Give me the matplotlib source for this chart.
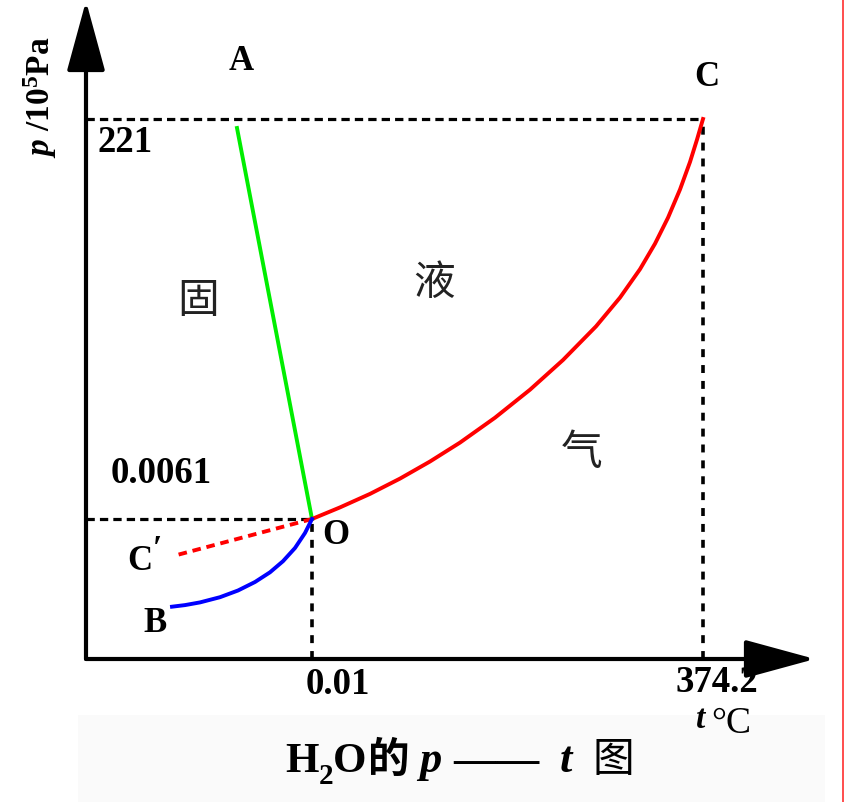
import matplotlib
matplotlib.use("Agg")
import matplotlib.pyplot as plt
from matplotlib.patches import Rectangle

plt.rcParams["font.family"] = ["Liberation Serif", "Noto Sans CJK SC"]
plt.rcParams["mathtext.fontset"] = "custom"
plt.rcParams["mathtext.rm"] = "Liberation Serif:bold"
plt.rcParams["mathtext.it"] = "Liberation Serif:bold:italic"

# schematic coordinates, origin at the axis corner
triple = (226, 140)          # O
critical = (617, 540)        # C
t_ticks = [226, 617]
t_labels = ["0.01", "374.2"]
p_ticks = [140, 540]
p_labels = ["0.0061", "221"]

# O -> A (melting line)
melt_t = [226, 151]
melt_p = [140, 531]
# O -> C (vaporisation curve)
vap_t = [226, 254, 284, 314, 344, 374, 409, 444, 477, 510, 534, 554, 569, 582,
         594, 604, 611, 617]
vap_p = [140, 151.6, 165.1, 180.4, 197.5, 216.4, 241.3, 269.3, 299, 332.6, 361.4,
         389.8, 415.3, 441.3, 469.5, 497, 519.4, 540]
# O -> B (sublimation curve)
sub_t = [226, 219, 209, 197, 184, 169, 152, 134, 114, 99, 86]
sub_p = [140, 126, 111, 97.8, 86.7, 77, 68.5, 61.8, 56.6, 53.9, 52.3]
# O -> C' (supercooled liquid)
sc_t = [226, 91]
sc_p = [140, 104]

fig = plt.figure(figsize=(8.45, 8.03), dpi=100)
ax = fig.add_axes([0, 0, 1, 1])
ax.set_xlim(-86, 759)
ax.set_ylim(-143, 660)
ax.axis("off")

ax.add_patch(Rectangle((-8, -143), 747, 87, color="#fafafa", lw=0, zorder=0))
ax.axvline(757, color="#ff4d4d", lw=1.4)

# axes with arrows
arrow = dict(arrowstyle="-|>,head_length=2.2,head_width=0.6", mutation_scale=20,
             lw=3, color="black", shrinkA=0, shrinkB=0)
ax.annotate("", xy=(0, 658), xytext=(0, 0), arrowprops=arrow)
ax.annotate("", xy=(729, 0), xytext=(0, 0), arrowprops=arrow)

# guide lines
dash = (0, (2.6, 1.6))
dot = (0, (2.2, 2.2))
ax.plot([0, triple[0]], [triple[1], triple[1]], color="black", lw=2.3, ls=dash)
ax.plot([0, critical[0]], [critical[1], critical[1]], color="black", lw=2.3, ls=dash)
ax.plot([triple[0], triple[0]], [0, triple[1]], color="black", lw=2.6, ls=dot)
ax.plot([critical[0], critical[0]], [0, critical[1]], color="black", lw=2.6, ls=dot)

# phase boundaries
ax.plot(sc_t, sc_p, color="#ff0000", lw=2.8, ls=(0, (2.2, 1.5)))
ax.plot(melt_t, melt_p, color="#00ee00", lw=2.8)
ax.plot(vap_t, vap_p, color="#ff0000", lw=2.8, solid_joinstyle="round")
ax.plot(sub_t, sub_p, color="#0000ff", lw=2.8, solid_joinstyle="round")

lab = dict(fontsize=26.5, fontweight="bold", ha="center", va="center")
ax.text(t_ticks[0] + 26, -25, t_labels[0], **lab)
ax.text(t_ticks[1] + 14, -23, t_labels[1], **lab)
ax.text(75, p_ticks[0] + 46, p_labels[0], **lab)
ax.text(39, p_ticks[1] - 22, p_labels[1], **lab)

pt = dict(fontsize=25, fontweight="bold", ha="center", va="center")
ax.text(155, 599, "A", **pt)
ax.text(621, 582, "C", **pt)
ax.text(250, 125, "O", **pt)
ax.text(69, 36, "B", **pt)
ax.text(54, 98, "C", **pt)
ax.text(71, 111, "′", fontsize=24, fontweight="bold", ha="center", va="center")

cjk = dict(fontsize=30, family="Noto Sans CJK SC", color="#222222", ha="center", va="center")
ax.text(112, 359, "固", **cjk)
ax.text(348, 377, "液", **cjk)
ax.text(496, 206, "气", **cjk)

ax.text(-46, 563, r"$p$ /10$^{5}$Pa", fontsize=24, fontweight="bold",
        rotation=90, ha="center", va="center")
ax.text(615, -60, "t", fontsize=24, fontweight="bold", style="italic", ha="center", va="center")
ax.text(645, -64, "°C", fontsize=27, ha="center", va="center")

# caption, laid out piece by piece (1 data unit = 1 pixel)
renderer = fig.canvas.get_renderer()
pieces = [
    ("H", dict(fontsize=31, fontweight="bold"), 0, 0),
    ("2", dict(fontsize=21, fontweight="bold"), -12, 0),
    ("O", dict(fontsize=31, fontweight="bold"), 0, 1),
    ("的", dict(fontsize=30, fontweight="bold", family="Noto Sans CJK SC"), 0, 10),
    ("p", dict(fontsize=32, fontweight="bold", style="italic"), 0, 12),
    ("——", dict(fontsize=31, fontweight="bold"), 0, 20),
    ("t", dict(fontsize=32, fontweight="bold", style="italic"), 0, 20),
    ("图", dict(fontsize=30, family="Noto Sans CJK SC"), 0, 0),
]
x = 199
for s, kw, dy, gap in pieces:
    t = ax.text(x, -112 + dy, s, va="baseline", ha="left", **kw)
    x += t.get_window_extent(renderer).width + gap

fig.savefig("out.png", dpi=100)
